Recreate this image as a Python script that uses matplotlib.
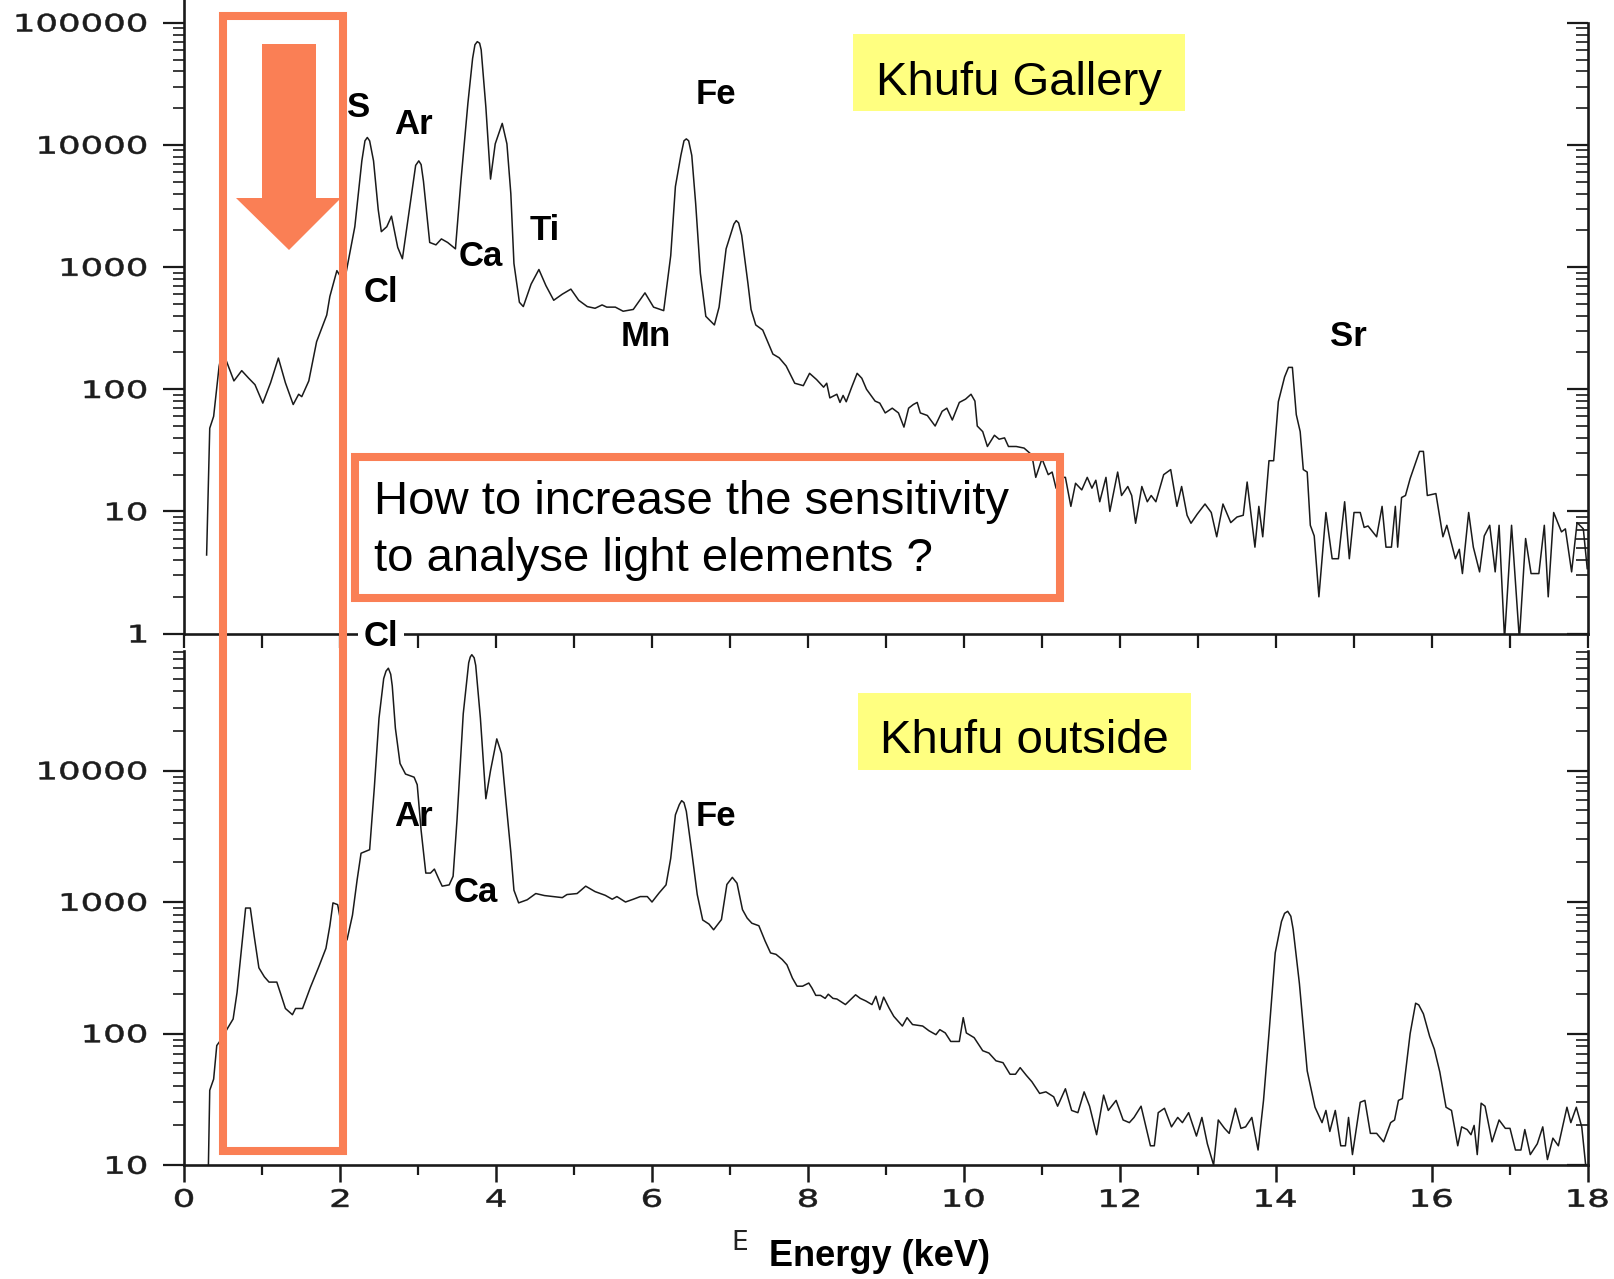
import numpy as np
import matplotlib
matplotlib.use('Agg')
import matplotlib.pyplot as plt
from matplotlib import ticker
from matplotlib.patches import Rectangle, Polygon, PathPatch
from matplotlib.textpath import TextPath
from matplotlib.font_manager import FontProperties
from matplotlib.transforms import Affine2D

# XRF spectra, energy in keV and counts per channel
gallery_kev = [0.29, 0.33, 0.38, 0.45, 0.49, 0.55, 0.64, 0.74, 0.83, 0.91,
               1.01, 1.11, 1.21, 1.30, 1.40, 1.47, 1.51, 1.60, 1.70, 1.83,
               1.87, 1.96, 2.00, 2.05, 2.19, 2.28, 2.32, 2.35, 2.38, 2.43, 2.49, 2.53,
               2.60, 2.66, 2.74, 2.80, 2.89, 2.97, 3.01, 3.04, 3.07, 3.15, 3.23, 3.30,
               3.38, 3.48, 3.55, 3.64, 3.70, 3.73, 3.76, 3.79, 3.81, 3.87, 3.93, 3.99,
               4.08, 4.14, 4.19, 4.23, 4.30, 4.35, 4.45, 4.55, 4.64, 4.74,
               4.85, 4.96, 5.06, 5.17, 5.27, 5.36, 5.42, 5.53, 5.63, 5.76,
               5.91, 6.02, 6.15, 6.24, 6.30, 6.37, 6.41, 6.44, 6.47, 6.51, 6.56, 6.62,
               6.69, 6.80, 6.86, 6.95, 7.05, 7.08, 7.11, 7.15, 7.23, 7.27, 7.33, 7.42,
               7.55, 7.63, 7.72, 7.83, 7.94, 8.02, 8.11, 8.20, 8.24, 8.28,
               8.37, 8.41, 8.45, 8.49, 8.56, 8.63, 8.69, 8.75, 8.86, 8.92,
               8.99, 9.08, 9.16, 9.23, 9.29, 9.35, 9.40, 9.44, 9.53, 9.63,
               9.72, 9.78, 9.85, 9.94, 10.02, 10.09, 10.14, 10.17, 10.24, 10.30,
               10.39, 10.45, 10.52, 10.57, 10.67, 10.77, 10.87, 10.92, 11.00, 11.08,
               11.13, 11.18, 11.23, 11.30, 11.37, 11.43, 11.51, 11.58, 11.64, 11.69,
               11.74, 11.82, 11.87, 11.97, 12.02, 12.10, 12.15, 12.20, 12.28, 12.35,
               12.40, 12.46, 12.56, 12.65, 12.73, 12.79, 12.86, 12.91, 12.99, 13.09,
               13.17, 13.24, 13.32, 13.42, 13.50, 13.58, 13.63, 13.73, 13.78, 13.83,
               13.91, 13.97, 14.03, 14.11, 14.16, 14.21, 14.26, 14.31, 14.35, 14.40,
               14.44, 14.49, 14.55, 14.64, 14.72, 14.80, 14.88, 14.94, 15.00, 15.08,
               15.13, 15.18, 15.29, 15.36, 15.41, 15.48, 15.53, 15.56, 15.61, 15.66,
               15.72, 15.84, 15.89, 15.94, 16.05, 16.14, 16.19, 16.30, 16.35, 16.39,
               16.47, 16.53, 16.61, 16.67, 16.74, 16.81, 16.86, 16.93, 17.02, 17.12,
               17.20, 17.27, 17.37, 17.44, 17.49, 17.56, 17.66, 17.71, 17.79, 17.86,
               17.94, 17.99]
gallery_counts = [4.4, 48, 60, 154, 204, 166, 117, 142, 123, 109,
                  77, 113, 180, 113, 75, 91, 87, 117, 245, 405,
                  575, 935, 850, 725, 2140, 7400, 10800, 11500, 10800, 7400, 2950, 1950,
                  2140, 2610, 1450, 1170, 2950, 6800, 7400, 6900, 5040, 1590, 1520, 1700,
                  1590, 1410, 5040, 22000, 51000, 66000, 70000, 68000, 60000, 20400, 5250, 10200,
                  15000, 10200, 4000, 1070, 515, 475, 725, 955, 705, 535,
                  600, 660, 535, 475, 460, 490, 470, 470, 435, 450,
                  615, 470, 440, 1240, 4560, 8200, 10800, 11200, 10800, 8200, 3300, 890,
                  395, 336, 470, 1410, 2250, 2400, 2300, 1820, 735, 450, 336, 305,
                  194, 181, 155, 112, 107, 135, 120, 104, 112, 85,
                  91, 78, 89, 79, 104, 135, 123, 100, 80, 77,
                  64, 70, 64, 49, 70, 75, 78, 64, 61, 50,
                  66, 70, 56, 78, 83, 91, 80, 50, 45, 34,
                  42, 39, 40, 34, 34, 33, 29, 19, 27, 20,
                  21, 15.5, 19, 19, 11, 17, 15, 19, 15.5, 18,
                  12, 19, 10, 21, 13.5, 16, 13.5, 8, 16, 12,
                  13.5, 12, 20, 22, 11, 16, 9.3, 8, 9.5, 11.5,
                  9.8, 6.2, 11.5, 8.1, 9, 9.3, 17.4, 5.1, 11, 6.2,
                  26, 26, 79, 126, 151, 151, 62, 45, 22, 21,
                  7.7, 6.3, 2.0, 9.8, 4.1, 4.1, 12, 4.1, 9.8, 9.8,
                  7.4, 7.6, 6.2, 11, 5.1, 5.1, 11, 5.1, 13, 13.5,
                  18.6, 31, 31, 13.5, 14, 6.2, 7.7, 4.1, 4.9, 3.1,
                  9.8, 5.1, 3.2, 6.3, 7.7, 3.2, 7.7, 0.9, 7.7, 0.9,
                  6.0, 3.1, 3.1, 7.7, 2.0, 9.8, 6.8, 7.2, 3.2, 8.1,
                  7.2, 3.4]

outside_kev = [0.31, 0.33, 0.38, 0.42, 0.47, 0.56, 0.63, 0.68, 0.74, 0.79,
               0.85, 0.90, 0.96, 1.03, 1.09, 1.19, 1.24, 1.30, 1.39, 1.43,
               1.52, 1.62, 1.73, 1.82, 1.87, 1.91, 1.97, 2.02, 2.09, 2.16,
               2.22, 2.27, 2.38, 2.44, 2.50, 2.56, 2.59, 2.62, 2.65, 2.67, 2.71, 2.77,
               2.84, 2.95, 2.99, 3.04, 3.10, 3.16, 3.21, 3.27, 3.31, 3.40,
               3.45, 3.50, 3.58, 3.65, 3.67, 3.69, 3.72, 3.74, 3.80, 3.87, 3.93, 4.01,
               4.07, 4.12, 4.19, 4.23, 4.29, 4.40, 4.51, 4.62, 4.74, 4.85,
               4.91, 5.04, 5.15, 5.27, 5.40, 5.49, 5.55, 5.66, 5.76, 5.85,
               5.94, 6.00, 6.09, 6.18, 6.24, 6.30, 6.35, 6.38, 6.41, 6.44, 6.51, 6.58,
               6.65, 6.73, 6.79, 6.89, 6.96, 7.03, 7.09, 7.16, 7.22, 7.28,
               7.37, 7.45, 7.52, 7.59, 7.67, 7.73, 7.80, 7.86, 7.93, 8.01,
               8.05, 8.10, 8.16, 8.22, 8.26, 8.32, 8.37, 8.48, 8.55, 8.61,
               8.67, 8.74, 8.82, 8.87, 8.92, 8.97, 9.04, 9.10, 9.21, 9.27,
               9.34, 9.47, 9.55, 9.64, 9.69, 9.76, 9.83, 9.94, 9.99, 10.03,
               10.13, 10.24, 10.32, 10.41, 10.50, 10.59, 10.66, 10.72, 10.80, 10.87,
               10.97, 11.05, 11.15, 11.20, 11.30, 11.38, 11.46, 11.54, 11.61, 11.70,
               11.79, 11.85, 11.95, 12.04, 12.12, 12.18, 12.27, 12.32, 12.39, 12.44,
               12.49, 12.57, 12.66, 12.74, 12.80, 12.88, 12.98, 13.05, 13.12, 13.20,
               13.26, 13.34, 13.40, 13.48, 13.55, 13.61, 13.69, 13.77, 13.84, 13.91,
               13.99, 14.07, 14.11, 14.15, 14.19, 14.22, 14.30, 14.40, 14.50, 14.59, 14.64, 14.69,
               14.76, 14.83, 14.89, 14.93, 14.98, 15.08, 15.14, 15.21, 15.29, 15.38,
               15.47, 15.52, 15.57, 15.62, 15.72, 15.79, 15.83, 15.89, 15.97, 16.03, 16.10,
               16.18, 16.25, 16.33, 16.38, 16.45, 16.50, 16.54, 16.58, 16.63, 16.68,
               16.77, 16.86, 16.94, 17.00, 17.07, 17.14, 17.19, 17.26, 17.35, 17.42,
               17.48, 17.55, 17.62, 17.73, 17.78, 17.85, 17.92, 17.97]
outside_counts = [8, 37, 45, 81, 89, 110, 129, 205, 455, 900,
                  900, 550, 316, 270, 246, 246, 200, 155, 139, 155,
                  155, 224, 324, 445, 660, 985, 955, 660, 515, 795,
                  1480, 2350, 2500, 7400, 25000, 50000, 57000, 60000, 54000, 44000, 21000, 11300,
                  9400, 8900, 7800, 3500, 1660, 1660, 1780, 1480, 1320, 1350,
                  1570, 4200, 27000, 66000, 73000, 76000, 72000, 63000, 25000, 6100, 10000, 17400,
                  13500, 6500, 2400, 1230, 985, 1040, 1160, 1120, 1100, 1080,
                  1140, 1160, 1320, 1200, 1125, 1050, 1100, 1000, 1050, 1100,
                  1100, 1000, 1170, 1350, 2150, 4600, 5500, 5900, 5700, 4900, 2400, 1140,
                  730, 680, 615, 735, 1360, 1540, 1390, 875, 755, 690,
                  660, 505, 410, 400, 365, 333, 264, 229, 229, 242,
                  222, 195, 195, 185, 199, 185, 183, 166, 182, 197,
                  185, 177, 166, 192, 152, 189, 156, 135, 114, 132,
                  117, 114, 105, 98, 107, 101, 87, 87, 132, 101,
                  93, 74, 71, 62, 60, 49, 49, 55, 48, 43,
                  35, 36, 33, 28, 38, 26, 25, 36, 28, 17,
                  34, 26, 31, 22, 21, 23, 28, 21, 14, 14,
                  25, 27, 19.5, 23, 21, 25, 16.6, 23, 14.5, 10,
                  22, 19, 17.4, 27, 19, 19.5, 23, 13, 31, 100,
                  410, 710, 820, 850, 780, 620, 240, 52, 27.5, 21, 26, 18,
                  26, 14, 14, 23, 12, 30, 31, 17.4, 17.4, 15,
                  21, 22, 31, 32, 100, 170, 165, 141, 95, 76, 51,
                  27.5, 26, 14, 19.5, 18.6, 17, 20, 12, 29.5, 28,
                  15, 22, 19, 19, 13, 13, 18.6, 12, 14.5, 19.5,
                  11, 16, 14, 27.5, 21, 27.5, 19.5, 10]

gallery_lines = ['S', 'Ar', 'Cl', 'Ca', 'Ti', 'Mn', 'Fe', 'Sr']
outside_lines = ['Ar', 'Ca', 'Fe']
gallery_yticks = [1, 10, 100, 1000, 10000, 100000]
outside_yticks = [10, 100, 1000, 10000]
energy_ticks = [0, 2, 4, 6, 8, 10, 12, 14, 16, 18]

W, H = 1615, 1279
ORANGE = '#FA7F55'
YELLOW = '#FFFF80'
INK = '#1a1a1a'

plt.rcParams['font.family'] = ['DejaVu Sans']
fig = plt.figure(figsize=(W / 100, H / 100), dpi=100)


def frac(x0, y0, x1, y1):
    # pixel box (top-left origin) -> figure fraction rect
    return [x0 / W, 1 - y1 / H, (x1 - x0) / W, (y1 - y0) / H]


def style_axes(ax, ylo, yhi, right_top, yticks):
    ax.set_yscale('log')
    ax.set_xlim(0, 18)
    ax.set_ylim(ylo, yhi)
    for side in ['left', 'bottom', 'right']:
        ax.spines[side].set_linewidth(1.9)
        ax.spines[side].set_color(INK)
    ax.spines['top'].set_visible(False)
    ax.spines['right'].set_bounds(ylo, right_top)
    ax.yaxis.set_major_locator(ticker.FixedLocator(yticks))
    ax.yaxis.set_minor_locator(ticker.LogLocator(base=10, subs=np.arange(2, 10), numticks=100))
    ax.tick_params(axis='y', which='major', direction='out', length=15, width=1.6,
                   labelleft=False, colors=INK)
    ax.tick_params(axis='y', which='minor', direction='out', length=8, width=1.2, colors=INK)
    ax.tick_params(axis='y', right=False, which='both')
    # right-hand ticks point inwards
    tw = ax.twinx()
    tw.set_yscale('log')
    tw.set_ylim(ylo, yhi)
    for s in tw.spines.values():
        s.set_visible(False)
    tw.yaxis.set_major_locator(ticker.FixedLocator([v for v in yticks if v <= right_top]))
    tw.yaxis.set_minor_locator(ticker.FixedLocator(
        [m * 10.0 ** e for e in range(0, 5) for m in range(2, 10) if ylo < m * 10.0 ** e < right_top]))
    tw.tick_params(axis='y', which='major', direction='in', length=15, width=1.6, labelright=False, colors=INK)
    tw.tick_params(axis='y', which='minor', direction='in', length=9, width=1.2, colors=INK)
    return tw


# upper panel: inside the gallery
ax1 = fig.add_axes(frac(184, 0, 1588, 633.6))
style_axes(ax1, 1, 10 ** 5.186, 1e5, gallery_yticks)
ax1.plot(gallery_kev, gallery_counts, color=INK, lw=1.1)
ax1.xaxis.set_major_locator(ticker.MultipleLocator(1))
ax1.tick_params(axis='x', which='major', direction='out', length=10, width=1.6,
                labelbottom=False, colors=INK)

# lower panel: outside
ax2 = fig.add_axes(frac(184, 651, 1588, 1165))
style_axes(ax2, 10, 10 ** 4.909, 10 ** 4.909, outside_yticks)
ax2.plot(outside_kev, outside_counts, color=INK, lw=1.1)
ax2.xaxis.set_major_locator(ticker.FixedLocator(energy_ticks))
ax2.xaxis.set_minor_locator(ticker.MultipleLocator(1))
ax2.tick_params(axis='x', which='major', direction='out', length=12, width=1.8,
                labelbottom=False, colors=INK)
ax2.tick_params(axis='x', which='minor', direction='out', length=7, width=1.6, colors=INK)

# element line labels
lab = dict(fontsize=25, fontweight='bold', family=['Liberation Sans', 'DejaVu Sans'],
           ha='center', va='center', color='black')
gallery_pos = [(2.24, 20400), (2.94, 14800), (2.52, 620), (3.81, 1230),
               (4.62, 1990), (5.92, 268), (6.82, 25700), (14.93, 268)]
for name, (e, c) in zip(gallery_lines, gallery_pos):
    ax1.text(e, c, name, **lab)
outside_pos = [(2.94, 4450), (3.74, 1190), (6.82, 4450)]
for name, (e, c) in zip(outside_lines, outside_pos):
    ax2.text(e, c, name, **lab)

# overlay in pixel coordinates (y down) for the annotations
ov = fig.add_axes([0, 0, 1, 1])
ov.set_xlim(0, W)
ov.set_ylim(H, 0)
ov.axis('off')
ov.patch.set_alpha(0)
ov.set_zorder(10)

# wide, low digits of the plotter's tick labels
digit_font = FontProperties(family='DejaVu Sans')


def wide_label(s, x, y, ha):
    tp = TextPath((0, 0), s, size=100, prop=digit_font)
    ext = tp.get_extents()
    sx, sy = 0.355, 0.24
    w = ext.width * sx
    x0 = x - w if ha == 'right' else x - w / 2
    tr = (Affine2D().translate(-ext.x0, -ext.y0).scale(sx, -sy)
          .translate(x0, y + ext.height * sy / 2))
    ov.add_patch(PathPatch(tp, transform=tr + ov.transData, facecolor='#1c1c1c',
                           edgecolor='#1c1c1c', lw=0.4))


def to_px(ax, xv, yv):
    dx, dy = ax.transData.transform((xv, yv))
    return dx, H - dy


for ax, ticks in [(ax1, gallery_yticks), (ax2, outside_yticks)]:
    for v in ticks:
        _, py = to_px(ax, 0, v)
        wide_label('%d' % v, 146, py, 'right')
for v in energy_ticks:
    px, _ = to_px(ax2, v, 10)
    wide_label('%d' % v, px, 1198, 'center')

ov.text(381, 636, 'Cl', fontsize=25, fontweight='bold', family=['Liberation Sans', 'DejaVu Sans'],
        ha='center', va='center', color='black',
        bbox=dict(facecolor='white', edgecolor='none', pad=4))

ov.add_patch(Rectangle((223.5, 15.5), 120, 1135, fill=False, edgecolor=ORANGE, lw=5.8))
ov.add_patch(Polygon([(262, 44), (316, 44), (316, 198), (341, 198), (289, 250),
                      (236, 198), (262, 198)], closed=True, facecolor=ORANGE, edgecolor='none'))

ov.add_patch(Rectangle((355, 457), 705, 141, fill=False, edgecolor=ORANGE, lw=5.8))
qfont = dict(fontsize=34, family=['Liberation Sans', 'DejaVu Sans'], color='black', va='baseline')
ov.text(374, 514, 'How to increase the sensitivity', **qfont)
ov.text(374, 571, 'to analyse light elements ?', **qfont)

bfont = dict(fontsize=34, family=['Liberation Sans', 'DejaVu Sans'], color='black',
             ha='center', va='baseline')
ov.add_patch(Rectangle((853, 34), 332, 77, facecolor=YELLOW, edgecolor='none'))
ov.text(1019, 95, 'Khufu Gallery', **bfont)
ov.add_patch(Rectangle((858, 693), 333, 77, facecolor=YELLOW, edgecolor='none'))
ov.text(1024, 753, 'Khufu outside', **bfont)

ov.text(740, 1243, 'E', fontsize=19, color='#222222', ha='center', va='center')
ov.text(880, 1256, 'Energy (keV)', fontsize=26, fontweight='bold',
        family=['Liberation Sans', 'DejaVu Sans'], ha='center', va='center', color='black')

fig.savefig('out.png', dpi=100, facecolor='white')
